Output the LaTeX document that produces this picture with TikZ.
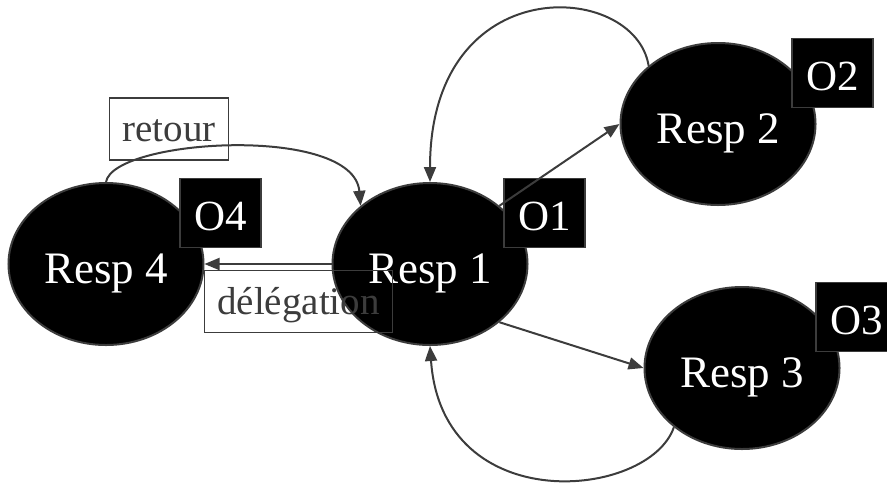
\documentclass[tikz,border=0pt]{standalone}
\usepackage{fontspec}
\setmainfont{Liberation Serif}
\usepackage{tikz}
\usetikzlibrary{arrows.meta,positioning,shapes.geometric}
\definecolor{linegray}{HTML}{3C3C3C}

\begin{document}
\begin{tikzpicture}[
    x=0.5pt, y=0.5pt,
    % --- STYLES ---
    resp/.style={
        ellipse, draw=linegray, line width=1pt, fill=black,
        minimum width=97.5pt, minimum height=81pt,
        inner sep=0pt, text=white,
        font=\fontsize{22.5}{27}\selectfont,
        text height=19pt, text depth=0pt
    },
    obj/.style={
        rectangle, draw=linegray, line width=0.8pt, fill=black,
        minimum width=40.5pt, minimum height=34.5pt,
        inner sep=0pt, text=white,
        font=\fontsize{21.5}{26}\selectfont,
        text height=17.5pt, text depth=0pt
    },
    lbl/.style={
        rectangle, draw=linegray, line width=0.7pt,
        minimum height=31pt, inner xsep=6.5pt, inner ysep=0pt,
        text=linegray, font=\fontsize{19.5}{23}\selectfont,
        text height=13pt, text depth=0pt
    },
    flow/.style={-{Triangle[length=7.5pt, width=6pt]}, draw=linegray, line width=1pt}
]

\useasboundingbox (0,0) rectangle (887,-483);
\clip (0,0) rectangle (887,-483);

% ===== 1. RESPONSABLES =====
\node[resp] (r4) at (106,-264) {Resp 4};
\node[resp, right=63.5pt of r4] (r1) {Resp 1};
\node[resp] (r2) at (718,-124) {Resp 2};
\node[resp] (r3) at (742,-368) {Resp 3};

% ===== 2. OBJETS =====
\node[obj] (o4) at ([shift={(114.5,51)}]r4.center) {O4};
\node[obj] (o1) at ([shift={(114.5,51)}]r1.center) {O1};
\node[obj] (o2) at ([shift={(114.5,51)}]r2.center) {O2};
\node[obj] (o3) at ([shift={(114.5,51)}]r3.center) {O3};

% ===== 3. CONNEXIONS =====
% délégation vers Resp 4, puis retour
\draw[flow] (r1.west) -- node[lbl, pos=0.26, below=3pt] (deleg) {délégation} (r4.east);
\draw[flow] (r4.north) to[out=80, in=95, out distance=22pt, in distance=41pt]
    node[lbl, pos=0.25, xshift=10.5pt, yshift=13.5pt] (retour) {retour} (r1.140);

% aller-retour avec Resp 2
\draw[flow] (r1.40) -- (r2.west);
\draw[flow] (r2.140) to[out=99, in=90, out distance=43pt, in distance=107pt] (r1.north);

% aller-retour avec Resp 3
\draw[flow] (r1.-40) -- (r3.west);
\draw[flow] (r3.221) to[out=-109, in=-86, out distance=38pt, in distance=87pt] (r1.south);

\end{tikzpicture}
\end{document}
